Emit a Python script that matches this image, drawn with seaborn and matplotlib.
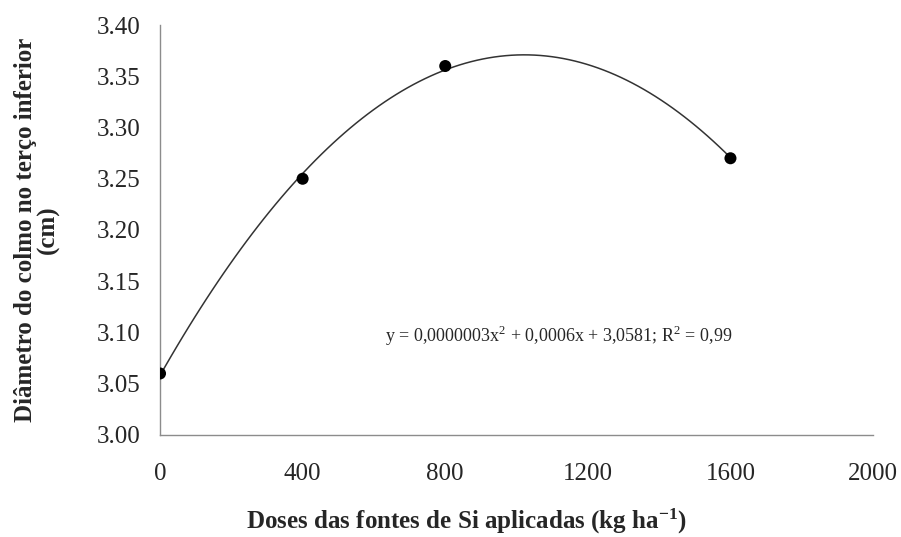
import numpy as np
import pandas as pd
import seaborn as sns
import matplotlib.pyplot as plt

# doses (kg/ha) and stalk diameter (cm)
doses = [0, 400, 800, 1600]
diametro = [3.06, 3.25, 3.36, 3.27]
x_ticks = [0, 400, 800, 1200, 1600, 2000]
y_ticks = [3.00, 3.05, 3.10, 3.15, 3.20, 3.25, 3.30, 3.35, 3.40]
equacao = "y = 0,0000003x$^{2}$ + 0,0006x + 3,0581; R$^{2}$ = 0,99"

df = pd.DataFrame({"dose": doses, "diametro": diametro})

sns.set_style("white")
plt.rcParams['font.family'] = ['Liberation Serif', 'DejaVu Serif']
plt.rcParams['mathtext.fontset'] = 'custom'
plt.rcParams['mathtext.rm'] = 'Liberation Serif'
plt.rcParams['mathtext.bf'] = 'Liberation Serif:bold'

fig = plt.figure(figsize=(9.01, 5.37), dpi=100)
ax = fig.add_axes([0.1776, 0.19, 0.7914, 0.7634])

sns.regplot(ax=ax, data=df, x="dose", y="diametro", order=2, ci=None,
            scatter_kws={"s": 75, "color": "black", "edgecolor": "none",
                         "alpha": 1, "zorder": 3},
            line_kws={"color": "#333333", "lw": 1.1})

ax.set_xlim(0, 2000)
ax.set_ylim(3.00, 3.40)
ax.set_xticks(x_ticks)
ax.set_yticks(y_ticks)
ax.set_yticklabels([f"{v:.2f}" for v in y_ticks])
ax.tick_params(length=0, labelsize=18, pad=14)
ax.tick_params(axis='x', pad=20)

for s in ["top", "right"]:
    ax.spines[s].set_visible(False)
for s in ["left", "bottom"]:
    ax.spines[s].set_color("#8c8c8c")
    ax.spines[s].set_linewidth(1)
ax.set_clip_on(False)

ax.set_xlabel(r"Doses das fontes de Si aplicadas (kg ha$\mathbf{^{-1}}$)",
              fontsize=18, fontweight="bold")
ax.xaxis.set_label_coords(0.43, -0.175)
ax.set_ylabel("Diâmetro do colmo no terço inferior\n(cm)",
              fontsize=18, fontweight="bold", linespacing=1.0)
ax.yaxis.set_label_coords(-0.14, 0.5)

ax.text(632, 3.097, equacao, fontsize=13, va="center", ha="left")

fig.savefig("out.png", dpi=100)
